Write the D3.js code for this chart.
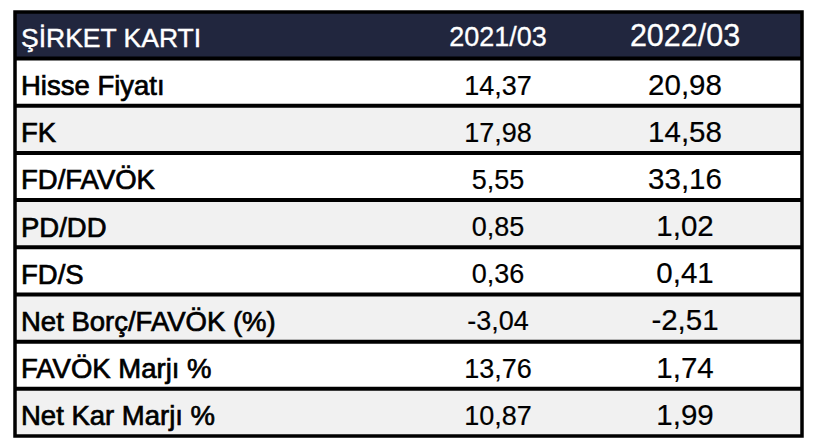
<!DOCTYPE html>
<html>
<head>
<meta charset="utf-8">
<script src="https://cdn.jsdelivr.net/npm/d3@7"></script>
<style>
  body { margin: 0; background: #fff; }
  svg { display: block; }
</style>
</head>
<body>
<svg></svg>
<script>
// table content
const title = "ŞİRKET KARTI";
const periods = ["2021/03", "2022/03"];
const metrics = ["Hisse Fiyatı", "FK", "FD/FAVÖK", "PD/DD", "FD/S", "Net Borç/FAVÖK (%)", "FAVÖK Marjı %", "Net Kar Marjı %"];
const values2021 = ["14,37", "17,98", "5,55", "0,85", "0,36", "-3,04", "13,76", "10,87"];
const values2022 = ["20,98", "14,58", "33,16", "1,02", "0,41", "-2,51", "1,74", "1,99"];

const width = 816;
const height = 444;
const tLeft = 15, tRight = 802, tTop = 12, headBottom = 58.5, tBottom = 436;
const font = "Liberation Sans, Arial, sans-serif";

const svg = d3.select("svg")
    .attr("width", width)
    .attr("height", height);

// rows
const y = d3.scaleBand()
    .domain(metrics)
    .range([headBottom, tBottom]);

// value columns centered on these points
const x = d3.scaleOrdinal()
    .domain(periods)
    .range([498, 685]);

const rows = metrics.map((m, i) => ({metric: m, v: [values2021[i], values2022[i]], i}));

// header background
svg.append("rect")
    .attr("x", tLeft)
    .attr("y", tTop)
    .attr("width", tRight - tLeft)
    .attr("height", headBottom - tTop)
    .attr("fill", "#21263e");

svg.append("text")
    .attr("x", 21)
    .attr("y", 47)
    .attr("fill", "#fff")
    .attr("stroke", "#fff")
    .attr("stroke-width", 0.4)
    .style("font-family", font)
    .style("font-size", "26.5px")
    .text(title);

svg.selectAll(".period")
  .data(periods)
  .join("text")
    .attr("class", "period")
    .attr("x", d => x(d))
    .attr("y", 46)
    .attr("text-anchor", "middle")
    .attr("fill", "#fff")
    .attr("stroke", "#fff")
    .attr("stroke-width", 0.3)
    .style("font-family", font)
    .style("font-size", (d, i) => i === 0 ? "27px" : "30.5px")
    .text(d => d);

// body rows, alternating fill
svg.selectAll(".row")
  .data(rows)
  .join("rect")
    .attr("class", "row")
    .attr("x", tLeft)
    .attr("y", d => y(d.metric))
    .attr("width", tRight - tLeft)
    .attr("height", y.bandwidth())
    .attr("fill", d => d.i % 2 ? "#f1f1f1" : "#ffffff");

// metric names: regular face thickened a little with a stroke
svg.selectAll(".metric")
  .data(rows)
  .join("text")
    .attr("class", "metric")
    .attr("x", 21)
    .attr("y", d => y(d.metric) + 36.5)
    .attr("fill", "#000")
    .attr("stroke", "#000")
    .attr("stroke-width", 0.7)
    .style("font-family", font)
    .style("font-size", "27.5px")
    .text(d => d.metric);

periods.forEach((p, k) => {
  svg.selectAll(".val" + k)
    .data(rows)
    .join("text")
      .attr("class", "val" + k)
      .attr("x", x(p))
      .attr("y", d => y(d.metric) + 36)
      .attr("text-anchor", "middle")
      .attr("fill", "#000")
      .attr("stroke", "#000")
      .attr("stroke-width", 0.2)
      .style("font-family", font)
      .style("font-size", k === 0 ? "27px" : "29.5px")
      .text(d => d.v[k]);
});

// row separators
svg.selectAll(".sep")
  .data(metrics)
  .join("line")
    .attr("class", "sep")
    .attr("x1", tLeft)
    .attr("x2", tRight)
    .attr("y1", d => y(d))
    .attr("y2", d => y(d))
    .attr("stroke", "#000")
    .attr("stroke-width", 4);

// outer frame
svg.append("rect")
    .attr("x", tLeft)
    .attr("y", tTop)
    .attr("width", tRight - tLeft)
    .attr("height", tBottom - tTop)
    .attr("fill", "none")
    .attr("stroke", "#000")
    .attr("stroke-width", 3.5);
</script>
</body>
</html>
